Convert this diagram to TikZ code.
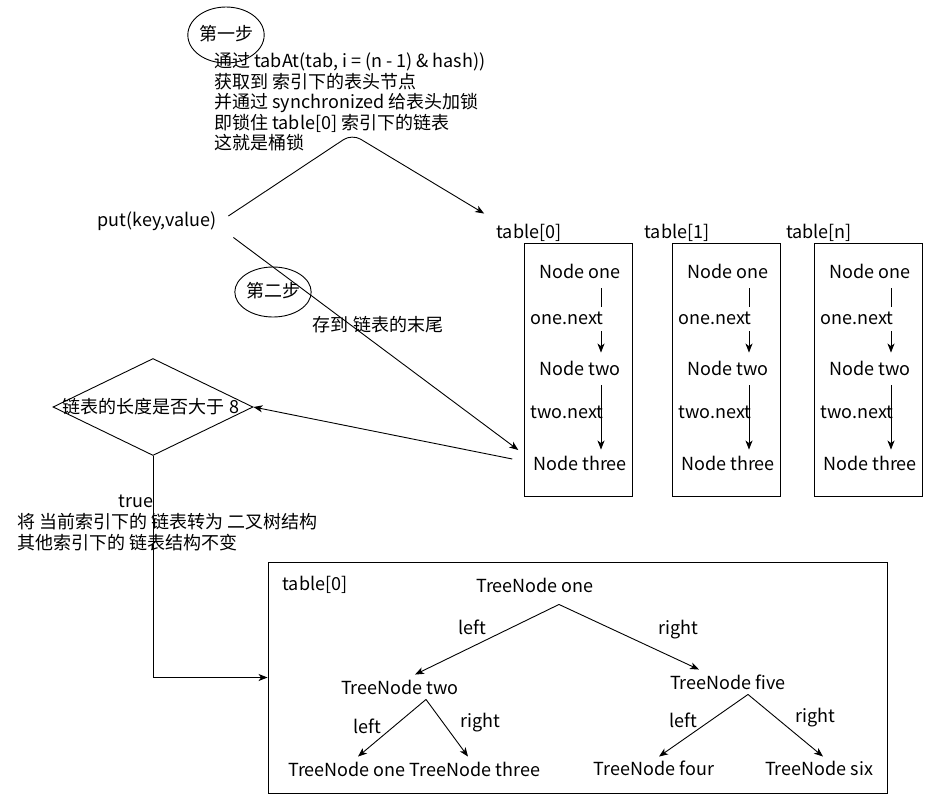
\documentclass[tikz,border=0pt]{standalone}
\usepackage{fontspec}
\setmainfont{Noto Sans CJK SC}
\usetikzlibrary{arrows.meta,shapes.geometric}

\begin{document}
\begin{tikzpicture}[x=1pt, y=-1pt, line width=0.9pt,
  every node/.style = {font=\fontsize{18}{20.5}\selectfont,
    inner sep=1pt, text height=14pt, text depth=4pt},
  arr/.style = {draw, -{Stealth[length=9pt, width=7pt, inset=2.5pt]}},
  stepmark/.style = {draw, ellipse, inner sep=0pt},
  bucket/.style = {draw, minimum width=108, minimum height=253}]
  \useasboundingbox (0,0) rectangle (930,807);

  % first step: lock the head of the bucket
  \node[stepmark, minimum width=68, minimum height=56] (s1) at (226,35) {第一步};
  \node[anchor=west, align=left, text height=, text depth=] (lock) at (213,102)
    {通过 tabAt(tab, i = (n - 1) \& hash))\\
     获取到 索引下的表头节点\\
     并通过 synchronized 给表头加锁\\
     即锁住 table[0] 索引下的链表\\
     这就是桶锁};
  \node (put) at (157,221) {put(key,value)};

  % buckets
  \foreach \i/\dx/\lab in {0/0/0, 1/148/1, n/290/n} {
    \node (tl\i) at (529+\dx,233) {table[\lab]};
    \node[bucket] (b\i) at (578+\dx,369.5) {};
    \node (one\i) at (580+\dx,273) {Node one};
    \node (two\i) at (580+\dx,370) {Node two};
    \node (three\i) at (580+\dx,465) {Node three};
    \draw[arr] ([xshift=21pt,yshift=-5pt]one\i.south) -- ([xshift=21pt,yshift=7pt]two\i.north);
    \draw[arr] ([xshift=21pt,yshift=-5pt]two\i.south) -- ([xshift=21pt,yshift=5pt]three\i.north);
    \node[fill=white, inner sep=3pt] at (567+\dx,319) {one.next};
    \node at (567+\dx,413) {two.next};
  }

  \draw[arr, rounded corners=10pt] ([shift={(10.5pt,5pt)}]put.east) -- (352,134)
    -- ([shift={(-11pt,9pt)}]tl0.north west);

  % second step: append to the tail
  \draw[arr] ([shift={(15.5pt,-6pt)}]put.south east)
    -- ([shift={(-13.5pt,15pt)}]three0.west);
  \node[stepmark, minimum width=70, minimum height=50] (s2) at (273,292) {第二步};
  \node (tail) at (378,326) {存到 链表的末尾};

  % length check
  \node[draw, diamond, inner sep=0pt, minimum width=200, minimum height=97] (dia) at (153,407) {};
  \node at (151,408) {链表的长度是否大于 8};
  \draw[arr] ([shift={(-19.5pt,6pt)}]three0.west) -- (dia.east);

  % tree box
  \node[draw, minimum width=619, minimum height=231] (tbox) at (577.5,677.5) {};
  \draw[arr] (dia.south) |- (tbox.west);
  \node (true) at (136,502) {true};
  \node[anchor=west, align=left, text height=, text depth=] (conv) at (16,532)
    {将 当前索引下的 链表转为 二叉树结构\\
     其他索引下的 链表结构不变};

  \node (tl) at (315,585) {table[0]};
  \node (r) at (535,587) {TreeNode one};
  \node (t2) at (400,689) {TreeNode two};
  \node (t5) at (728,684) {TreeNode five};
  \node (t1) at (347,771) {TreeNode one};
  \node (t3) at (475,771) {TreeNode three};
  \node (t4) at (654,770) {TreeNode four};
  \node (t6) at (819,770) {TreeNode six};

  \draw[arr] ([shift={(24pt,-7pt)}]r.south) -- ([shift={(15pt,4pt)}]t2.north);
  \draw[arr] ([shift={(24pt,-7pt)}]r.south) -- ([shift={(-29pt,4pt)}]t5.north);
  \draw[arr] ([shift={(26pt,0pt)}]t2.south) -- ([shift={(11pt,4pt)}]t1.north);
  \draw[arr] ([shift={(26pt,0pt)}]t2.south) -- ([shift={(-7pt,4pt)}]t3.north);
  \draw[arr] ([shift={(20pt,0pt)}]t5.south) -- ([shift={(5pt,3pt)}]t4.north);
  \draw[arr] ([shift={(20pt,0pt)}]t5.south) -- ([shift={(4pt,3pt)}]t6.north);

  \node at (472,629) {left};
  \node at (678,629) {right};
  \node at (367,728) {left};
  \node at (480,722) {right};
  \node at (683,722) {left};
  \node at (815,717) {right};
\end{tikzpicture}
\end{document}
